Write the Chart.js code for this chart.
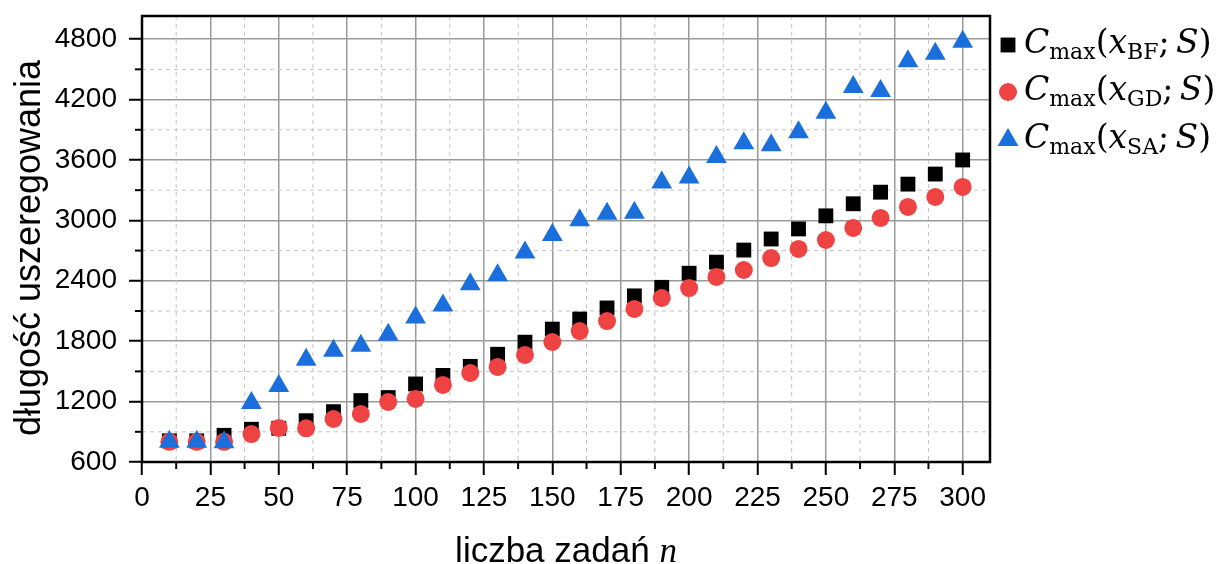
<!DOCTYPE html>
<html>
<head>
<meta charset="utf-8">
<script src="https://cdn.jsdelivr.net/npm/chart.js@4/dist/chart.umd.min.js"></script>
<style>
  body { margin: 0; background: #fff; }
  #box { position: relative; width: 1223px; height: 564px; }
</style>
</head>
<body>
<div id="box"><canvas id="myChart"></canvas></div>
<script>
// dane
var liczbaZadan = [10, 20, 30, 40, 50, 60, 70, 80, 90, 100, 110, 120, 130, 140, 150,
  160, 170, 180, 190, 200, 210, 220, 230, 240, 250, 260, 270, 280, 290, 300];
var cmaxBF = [810, 810, 865, 925, 935, 1010, 1100, 1210, 1240, 1375, 1460, 1550, 1670, 1790, 1920,
  2020, 2130, 2250, 2335, 2475, 2585, 2705, 2815, 2915, 3045, 3165, 3280, 3360, 3460, 3600];
var cmaxGD = [800, 800, 800, 878, 938, 935, 1027, 1077, 1196, 1226, 1365, 1484, 1544, 1663, 1792,
  1901, 2000, 2120, 2229, 2328, 2438, 2507, 2626, 2716, 2805, 2925, 3024, 3133, 3233, 3332];
var cmaxSA = [800, 800, 795, 1185, 1355, 1615, 1705, 1755, 1865, 2035, 2155, 2365, 2455, 2680, 2855,
  3000, 3065, 3075, 3375, 3425, 3630, 3765, 3745, 3875, 4070, 4325, 4285, 4580, 4655, 4775];
var ticksX = [0, 25, 50, 75, 100, 125, 150, 175, 200, 225, 250, 275, 300];
var ticksY = [600, 1200, 1800, 2400, 3000, 3600, 4200, 4800];
var legendaSub = ['BF', 'GD', 'SA'];
var tytulX = 'liczba zadań ';
var tytulXZmienna = 'n';
var tytulY = 'długość uszeregowania';

var kolory = ['#000000', '#ef4242', '#1a6fdc'];
var ksztalty = ['rect', 'circle', 'triangle'];
var promienie = [10.5, 9, 12];
var sans = '"Liberation Sans", Arial, sans-serif';
var serif = '"DejaVu Serif", serif';

function punkty(xs, ys) {
  var out = [];
  for (var i = 0; i < xs.length; i++) {
    out.push({ x: xs[i], y: ys[i] });
  }
  return out;
}

function zbiorDanych(i, dane) {
  return {
    label: legendaSub[i],
    data: punkty(liczbaZadan, dane),
    pointStyle: ksztalty[i],
    pointRadius: promienie[i],
    pointBackgroundColor: kolory[i],
    pointBorderWidth: 0,
    showLine: false,
    order: 2 - i
  };
}

function czesciWzoru(sub) {
  return [
    { t: 'C', f: 'italic 33px ' + serif, dy: 0 },
    { t: 'max', f: '22px ' + serif, dy: 6 },
    { t: '(', f: '33px ' + serif, dy: 0 },
    { t: 'x', f: 'italic 33px ' + serif, dy: 0 },
    { t: sub, f: '22px ' + serif, dy: 6 },
    { t: ';', f: '33px ' + serif, dy: 0 },
    { t: ' ', f: '20px ' + serif, dy: 0 },
    { t: 'S', f: 'italic 33px ' + serif, dy: 0 },
    { t: ')', f: '33px ' + serif, dy: 0 }
  ];
}

var dodatki = {
  id: 'dodatki',
  beforeDatasetsDraw: function (chart) {
    var ctx = chart.ctx;
    var a = chart.chartArea;
    var sx = chart.scales.x;
    var sy = chart.scales.y;
    ctx.save();
    ctx.strokeStyle = '#c4c4c4';
    ctx.lineWidth = 1;
    ctx.setLineDash([4, 4]);
    for (var i = 0; i < ticksX.length; i++) {
      var px = sx.getPixelForValue(ticksX[i] + 12.5);
      if (px >= a.right) continue;
      ctx.beginPath(); ctx.moveTo(px, a.top); ctx.lineTo(px, a.bottom); ctx.stroke();
    }
    for (var j = 0; j < ticksY.length; j++) {
      var py = sy.getPixelForValue(ticksY[j] + 300);
      if (py <= a.top) continue;
      ctx.beginPath(); ctx.moveTo(a.left, py); ctx.lineTo(a.right, py); ctx.stroke();
    }
    // male kreski podzialki
    ctx.setLineDash([]);
    ctx.strokeStyle = '#000';
    ctx.lineWidth = 2;
    for (var k = 0; k < ticksX.length; k++) {
      var mx = sx.getPixelForValue(ticksX[k] + 12.5);
      if (mx >= a.right) continue;
      ctx.beginPath(); ctx.moveTo(mx, a.bottom); ctx.lineTo(mx, a.bottom + 7); ctx.stroke();
    }
    for (var m = 0; m < ticksY.length; m++) {
      var my = sy.getPixelForValue(ticksY[m] + 300);
      if (my <= a.top) continue;
      ctx.beginPath(); ctx.moveTo(a.left, my); ctx.lineTo(a.left - 7, my); ctx.stroke();
    }
    ctx.restore();
  },
  afterDraw: function (chart) {
    var ctx = chart.ctx;
    var a = chart.chartArea;
    ctx.save();
    ctx.strokeStyle = '#000';
    ctx.lineWidth = 2.5;
    ctx.strokeRect(a.left, a.top, a.right - a.left, a.bottom - a.top);

    // tytul osi X
    ctx.fillStyle = '#000';
    ctx.textBaseline = 'alphabetic';
    ctx.font = '35px ' + sans;
    var w1 = ctx.measureText(tytulX).width;
    ctx.font = 'italic 35px "Liberation Serif", serif';
    var w2 = ctx.measureText(tytulXZmienna).width;
    var x0 = (a.left + a.right) / 2 - (w1 + w2) / 2;
    ctx.font = '35px ' + sans;
    ctx.textAlign = 'left';
    ctx.fillText(tytulX, x0, 562);
    ctx.font = 'italic 35px "Liberation Serif", serif';
    ctx.fillText(tytulXZmienna, x0 + w1, 562);

    // tytul osi Y
    ctx.save();
    ctx.translate(40, 248);
    ctx.rotate(-Math.PI / 2);
    ctx.font = '36px ' + sans;
    ctx.textAlign = 'center';
    ctx.fillText(tytulY, 0, 0);
    ctx.restore();

    // legenda
    var wierszeY = [45, 92, 140];
    for (var i = 0; i < legendaSub.length; i++) {
      ctx.fillStyle = kolory[i];
      Chart.helpers.drawPoint(ctx, { pointStyle: ksztalty[i], radius: promienie[i], rotation: 0, borderWidth: 0 }, 1008, wierszeY[i]);
      var czesci = czesciWzoru(legendaSub[i]);
      var tx = 1024;
      ctx.fillStyle = '#000';
      ctx.textAlign = 'left';
      for (var c = 0; c < czesci.length; c++) {
        ctx.font = czesci[c].f;
        ctx.fillText(czesci[c].t, tx, wierszeY[i] + 8 + czesci[c].dy);
        tx += ctx.measureText(czesci[c].t).width;
      }
    }
    ctx.restore();
  }
};

var ctx = document.getElementById('myChart').getContext('2d');
var myChart = new Chart(ctx, {
  type: 'scatter',
  data: {
    datasets: [
      zbiorDanych(0, cmaxBF),
      zbiorDanych(1, cmaxGD),
      zbiorDanych(2, cmaxSA)
    ]
  },
  options: {
    responsive: true,
    maintainAspectRatio: false,
    animation: false,
    devicePixelRatio: 1,
    layout: { padding: { top: 16, right: 233, left: 0, bottom: 0 } },
    plugins: {
      legend: { display: false },
      tooltip: { enabled: false }
    },
    scales: {
      x: {
        type: 'linear',
        min: 0,
        max: 310,
        afterBuildTicks: function (scale) {
          scale.ticks = ticksX.map(function (v) { return { value: v }; });
        },
        afterFit: function (scale) {
          scale.height = 102;
          scale.paddingLeft = 0;
          scale.paddingRight = 0;
        },
        grid: { color: '#9a9a9a', lineWidth: 1.5, tickColor: '#000', tickWidth: 2, tickLength: 13 },
        border: { display: false },
        ticks: {
          color: '#000', font: { family: sans, size: 28 }, padding: 6, maxRotation: 0, autoSkip: false,
          callback: function (v) { return String(v); }
        }
      },
      y: {
        type: 'linear',
        min: 600,
        max: 5030,
        afterBuildTicks: function (scale) {
          scale.ticks = ticksY.map(function (v) { return { value: v }; });
        },
        afterFit: function (scale) {
          scale.width = 142;
          scale.paddingTop = 0;
          scale.paddingBottom = 0;
        },
        grid: { color: '#9a9a9a', lineWidth: 1.5, tickColor: '#000', tickWidth: 2, tickLength: 13 },
        border: { display: false },
        ticks: {
          color: '#000', font: { family: sans, size: 28 }, padding: 12, autoSkip: false,
          callback: function (v) { return String(v); }
        }
      }
    }
  },
  plugins: [dodatki]
});
</script>
</body>
</html>
